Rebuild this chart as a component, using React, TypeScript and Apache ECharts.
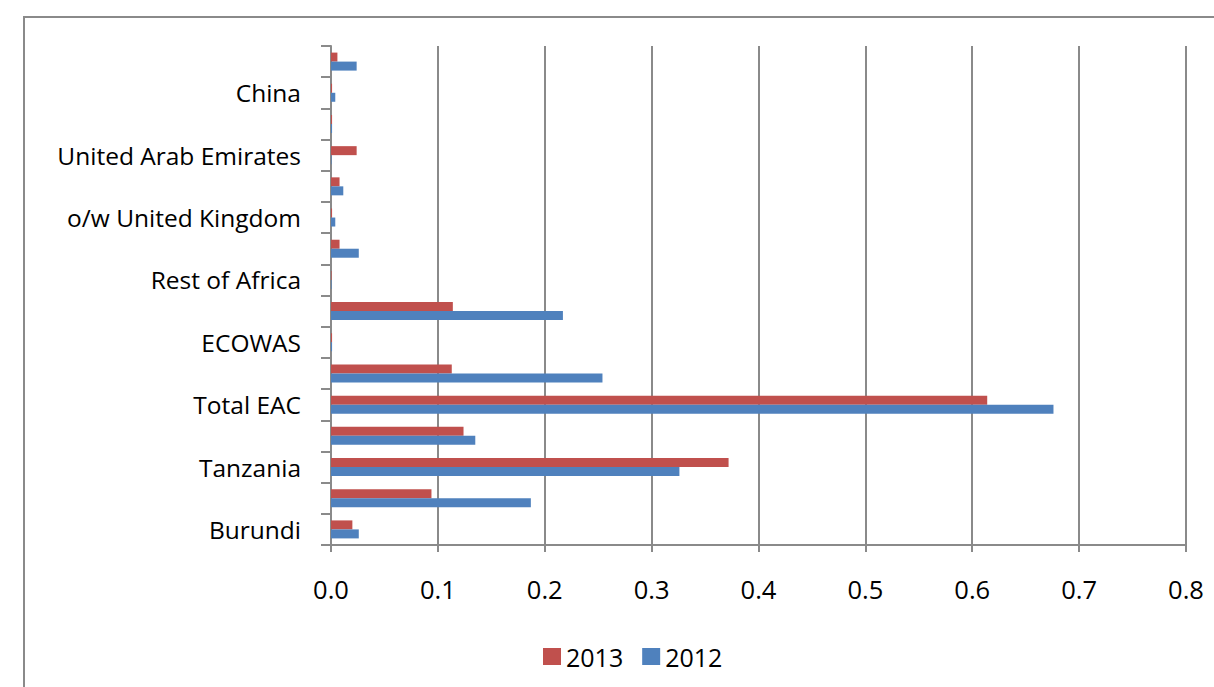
import React, { useEffect, useRef } from "react";
import * as echarts from "echarts";

const categories = [
  "Burundi",
  "Kenya",
  "Tanzania",
  "Uganda",
  "Total EAC",
  "COMESA",
  "ECOWAS",
  "SADC",
  "Rest of Africa",
  "Europe",
  "o/w United Kingdom",
  "United States",
  "United Arab Emirates",
  "India",
  "China",
  "Rest of World",
];

const values2012 = [0.026, 0.187, 0.326, 0.135, 0.676, 0.254, 0.001, 0.217, 0.0005, 0.026, 0.004, 0.0115, 0.0005, 0.001, 0.004, 0.024];
const values2013 = [0.020, 0.094, 0.372, 0.124, 0.614, 0.113, 0.001, 0.114, 0.0005, 0.008, 0.001, 0.008, 0.024, 0.001, 0.001, 0.006];

const xTicks = { min: 0, max: 0.8, interval: 0.1 };

const FONT = "'Open Sans', sans-serif";
const GRAY = "#8a8a8a";

export default function App() {
  const ref = useRef<HTMLDivElement>(null);
  useEffect(() => {
    if (!ref.current) return;
    const chart = echarts.init(ref.current, undefined, { renderer: "svg" });
    chart.setOption({
      animation: false,
      backgroundColor: "#ffffff",
      textStyle: { fontFamily: FONT },
      graphic: [
        {
          type: "rect",
          shape: { x: 24, y: 17, width: 1400, height: 900 },
          style: { fill: "none", stroke: GRAY, lineWidth: 2 },
          silent: true,
        },
      ],
      grid: { left: 331, top: 46, width: 855, height: 499, containLabel: false },
      legend: {
        data: ["2013", "2012"],
        left: 538,
        top: 639,
        itemWidth: 18,
        itemHeight: 17,
        itemGap: 19,
        icon: "rect",
        textStyle: { fontFamily: FONT, fontSize: 25, color: "#000" },
      },
      xAxis: {
        type: "value",
        min: xTicks.min,
        max: xTicks.max,
        interval: xTicks.interval,
        axisLine: { show: true, lineStyle: { color: GRAY, width: 2 } },
        axisTick: { show: true, length: 7, lineStyle: { color: GRAY, width: 2 } },
        splitLine: { show: true, lineStyle: { color: GRAY, width: 2 } },
        axisLabel: {
          margin: 31,
          fontFamily: FONT,
          fontSize: 25.5,
          color: "#000",
          formatter: (v: number) => v.toFixed(1),
        },
      },
      yAxis: {
        type: "category",
        data: categories,
        axisLine: { show: true, lineStyle: { color: GRAY, width: 2 } },
        axisTick: { show: true, length: 10, interval: 0, lineStyle: { color: GRAY, width: 2 } },
        axisLabel: {
          interval: 1,
          margin: 30,
          fontFamily: FONT,
          fontSize: 24.5,
          color: "#000",
        },
        splitLine: { show: false },
      },
      series: [
        {
          name: "2013",
          type: "bar",
          data: values2013,
          barWidth: 9,
          barGap: "0%",
          itemStyle: { color: "#C0504D" },
        },
        {
          name: "2012",
          type: "bar",
          data: values2012,
          barWidth: 9,
          barGap: "0%",
          itemStyle: { color: "#4F81BD" },
        },
      ],
    });
    return () => chart.dispose();
  }, []);
  return (
    <div
      ref={ref}
      style={{ position: "fixed", left: 0, top: 0, width: 1214, height: 687 }}
    />
  );
}
